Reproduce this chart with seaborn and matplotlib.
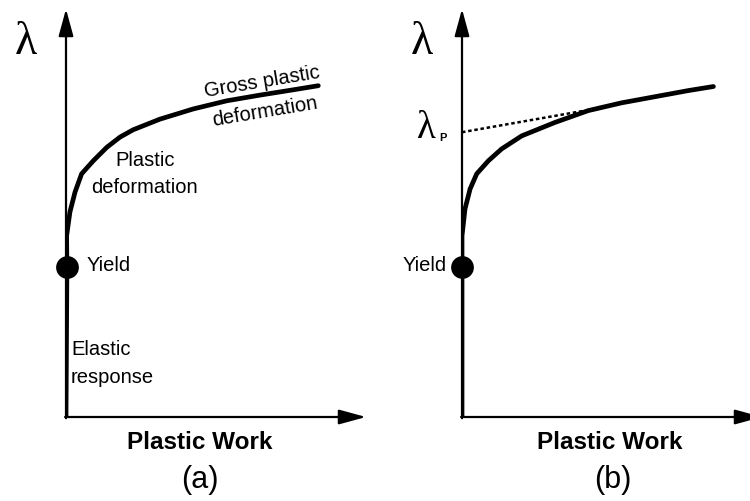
import pandas as pd
import matplotlib.pyplot as plt
import seaborn as sns

# --- data (arbitrary units: plastic work vs. load factor lambda) ---
work_a = [0, 0.03, 0.02, 0.13, 0.3, 0.52, 0.91, 1.36, 1.8, 2.24, 3.13, 4.24,
          5.36, 6.47, 7.58, 8.41]
lam_a = [0, 3.68, 4.44, 5.02, 5.51, 5.96, 6.28, 6.61, 6.86, 7.04, 7.3, 7.55,
         7.75, 7.89, 8.02, 8.12]

work_b = [0, 0.0, 0.0, 0.1, 0.27, 0.49, 0.88, 1.32, 1.99, 3.1, 4.21, 5.32,
          6.43, 7.54, 8.38]
lam_b = [0, 3.68, 4.44, 5.1, 5.59, 5.96, 6.28, 6.57, 6.89, 7.22, 7.51, 7.7,
         7.85, 8.0, 8.1]

yield_work = [0.03, 0.0]
yield_lam = [3.68, 3.68]

tangent_work = [0, 4.33]
tangent_lam = [6.98, 7.54]

df_a = pd.DataFrame({'work': work_a, 'lam': lam_a})
df_b = pd.DataFrame({'work': work_b, 'lam': lam_b})

sns.set_theme(style="white")
plt.rcParams['font.family'] = ['Liberation Sans', 'DejaVu Sans']
plt.rcParams['text.color'] = 'black'

fig = plt.figure(figsize=(7.5, 5.02), dpi=100)
ax_a = fig.add_axes([66 / 750, 84 / 502, 0.4, 408 / 502])
ax_b = fig.add_axes([462 / 750, 84 / 502, 0.4, 408 / 502])

serif = ['Liberation Serif', 'DejaVu Serif']

for ax in (ax_a, ax_b):
    ax.set_xlim(0, 10)
    ax.set_ylim(0, 10)
    ax.axis('off')
    # axes with arrow heads
    arrow = dict(arrowstyle='-|>,head_length=1.65,head_width=0.45', lw=1.6,
                 color='black', mutation_scale=10, shrinkA=0, shrinkB=0)
    ax.annotate('', xy=(0, 10), xytext=(0, -0.03), arrowprops=arrow, annotation_clip=False)
    ax.annotate('', xy=(10, 0), xytext=(-0.03, 0), arrowprops=arrow, annotation_clip=False)
    ax.text(-1.35, 9.2, 'λ', fontsize=33, family=serif, ha='center', va='center')
    ax.text(ax is ax_a and 4.47 or 4.93, -0.61, 'Plastic Work', fontsize=17.5,
            fontweight='bold', ha='center', va='center')

line_kw = dict(color='black', lw=3.4, sort=False, estimator=None,
               solid_joinstyle='round', solid_capstyle='round')

# --- panel (a) ---
sns.lineplot(data=df_a, x='work', y='lam', ax=ax_a, **line_kw)
sns.scatterplot(x=[yield_work[0]], y=[yield_lam[0]], ax=ax_a, color='black',
                s=230, edgecolor='black', zorder=5, clip_on=False)
ax_a.text(0.67, 3.73, 'Yield', fontsize=14.5, ha='left', va='center')
ax_a.text(0.17, 1.67, 'Elastic', fontsize=14.5, ha='left', va='center')
ax_a.text(0.17, 1.0, 'response', fontsize=14.5, ha='left', va='center')
ax_a.text(2.63, 6.3, 'Plastic', fontsize=14.5, ha='center', va='center')
ax_a.text(2.63, 5.66, 'deformation', fontsize=14.5, ha='center', va='center')
ax_a.text(6.53, 8.23, 'Gross plastic', fontsize=14.5, ha='center', va='center', rotation=9.5)
ax_a.text(6.63, 7.5, 'deformation', fontsize=14.5, ha='center', va='center', rotation=9.5)
ax_a.text(4.47, -1.52, '(a)', fontsize=22, ha='center', va='center')

# --- panel (b) ---
sns.lineplot(data=df_b, x='work', y='lam', ax=ax_b, **line_kw)
sns.lineplot(x=tangent_work, y=tangent_lam, ax=ax_b, color='black', lw=1.8,
             linestyle=(0, (1.4, 1.1)))
sns.scatterplot(x=[yield_work[1]], y=[yield_lam[1]], ax=ax_b, color='black',
                s=230, edgecolor='black', zorder=5, clip_on=False)
ax_b.text(-0.5, 3.73, 'Yield', fontsize=14.5, ha='right', va='center')
ax_b.text(-1.17, 7.1, 'λ', fontsize=28, family=serif, ha='center', va='center')
ax_b.text(-0.63, 6.86, 'P', fontsize=8, fontweight='bold', ha='center', va='center')
ax_b.text(5.03, -1.52, '(b)', fontsize=22, ha='center', va='center')

for ax in (ax_a, ax_b):
    ax.set_xlabel('')
    ax.set_ylabel('')

fig.savefig('out.png', dpi=100)
